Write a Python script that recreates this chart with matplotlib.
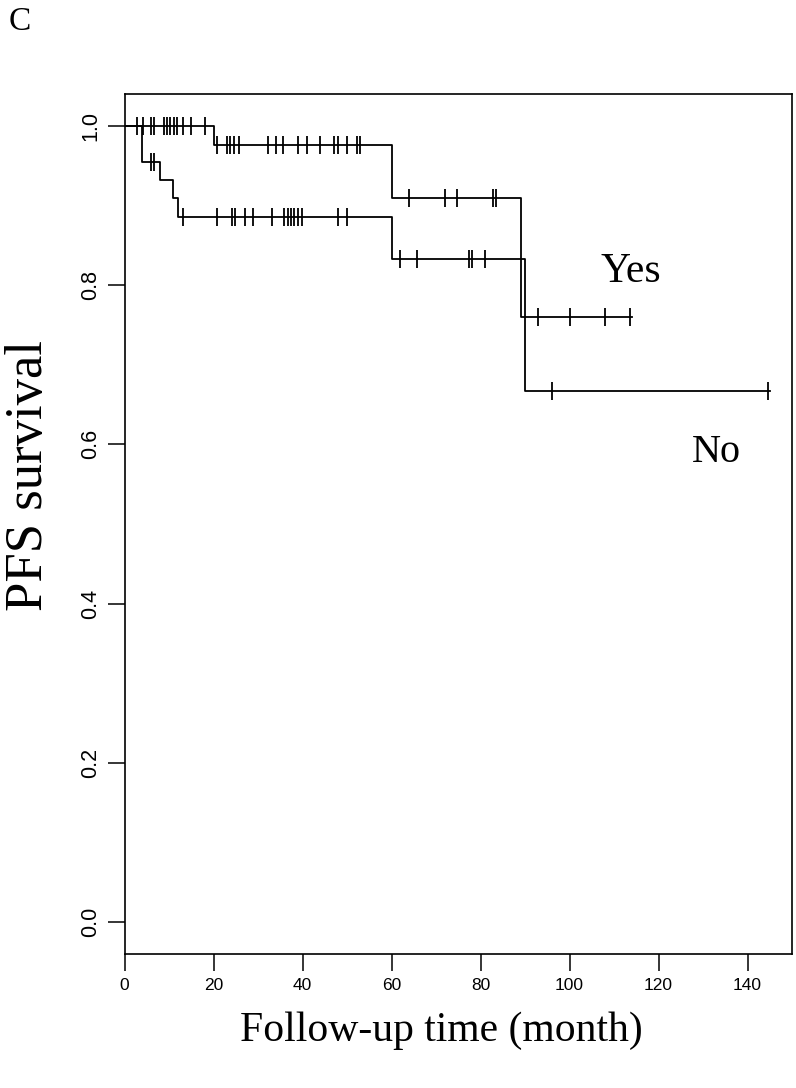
import numpy as np
import matplotlib
matplotlib.use("Agg")
import matplotlib.pyplot as plt

# step points (time, survival) for each group
yes_times = [0, 20, 60, 89]
yes_surv = [1.0, 0.976, 0.910, 0.760]
yes_end = 114
yes_cens = [2.8, 4.2, 6.0, 6.6, 8.8, 9.6, 10.3, 11.1, 11.8, 13.1, 15.0, 18.0,
            20.7, 23.0, 23.8, 24.5, 25.8, 32.2, 34.1, 35.7, 38.9, 41.1, 44.0,
            47.1, 47.9, 50.0, 52.2, 53.0, 63.9, 72.0, 74.8, 82.8, 83.5,
            92.9, 100.0, 108.0, 113.5]

no_times = [0, 4, 8, 11, 12, 60, 90]
no_surv = [1.0, 0.955, 0.932, 0.909, 0.885, 0.833, 0.667]
no_end = 145
no_cens = [6.0, 6.6, 13.1, 20.8, 24.1, 24.9, 27.0, 28.8, 33.1, 35.9, 36.7,
           37.5, 38.2, 39.0, 39.9, 47.9, 50.0, 62.0, 65.8, 77.4, 78.1, 80.9,
           96.0, 144.5]

x_ticks = [0, 20, 40, 60, 80, 100, 120, 140]
y_ticks = [0.0, 0.2, 0.4, 0.6, 0.8, 1.0]

serif = ['Liberation Serif', 'DejaVu Serif']
sans = ['Liberation Sans', 'DejaVu Sans']

W, H = 796, 1088
fig = plt.figure(figsize=(W / 100, H / 100), dpi=100)
ax = fig.add_axes([124.5 / W, 1 - 954 / H, (792 - 124.5) / W, (954 - 94) / H])


def draw_group(times, surv, end, cens):
    t = list(times) + [end]
    s = list(surv) + [surv[-1]]
    ax.step(t, s, where='post', color='black', lw=1.3)
    idx = np.searchsorted(times, cens, side='right') - 1
    ax.plot(cens, np.array(surv)[idx], ls='none', marker='|', ms=12.5,
            mew=1.3, color='black')


draw_group(yes_times, yes_surv, yes_end, yes_cens)
draw_group(no_times, no_surv, no_end, no_cens)

ax.set_xlim(0, 150)
ax.set_ylim(-0.04, 1.04)
ax.set_xticks(x_ticks)
ax.set_xticklabels([str(v) for v in x_ticks], family=sans, fontsize=12.5)
ax.set_yticks(y_ticks)
ax.set_yticklabels(['%.1f' % v for v in y_ticks], family=sans, fontsize=15.5,
                   rotation=90, va='center')
ax.tick_params(length=12, width=1.1, pad=5)
for sp in ax.spines.values():
    sp.set_linewidth(1.2)

ax.text(113.7, 0.817, 'Yes', family=serif, fontsize=30, ha='center', va='center')
ax.text(133, 0.59, 'No', family=serif, fontsize=29, ha='center', va='center')

# axis titles placed in figure pixels
fig.text(441 / W, 1 - 1031 / H, 'Follow-up time (month)', family=serif,
         fontsize=30, ha='center', va='center')
fig.text(29 / W, 1 - 476 / H, 'PFS survival', family=serif, fontsize=38,
         rotation=90, ha='center', va='center')

fig.text(9 / W, 1 - 6 / H, 'C', family=serif, fontsize=24, ha='left', va='top')

fig.savefig('out.png', dpi=100)
